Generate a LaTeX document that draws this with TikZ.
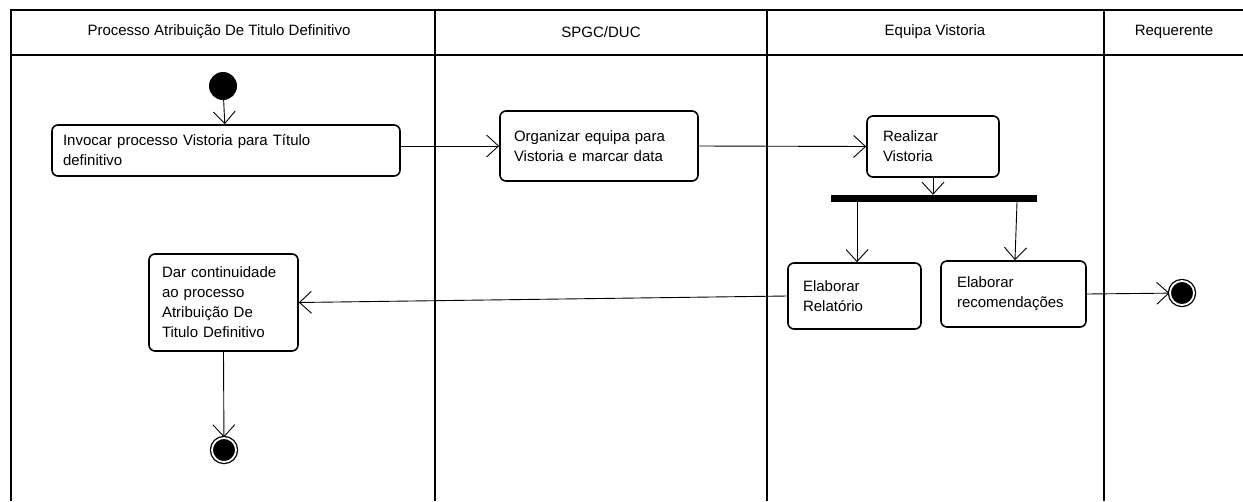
\documentclass[tikz,border=0pt]{standalone}
\usepackage{fontspec}
\setmainfont{Liberation Sans}
\usetikzlibrary{arrows.meta}
\begin{document}
\begin{tikzpicture}[x=1pt,y=-1pt,
  lane/.style={line width=2pt},
  act/.style={draw, line width=1.6pt, rounded corners=6pt, fill=white, align=left, font=\fontsize{15}{20}\selectfont, inner ysep=0pt},
  conn/.style={line width=0.9pt, -{Straight Barb[length=12pt,width=22pt,line width=0.9pt]}},
  hdr/.style={font=\fontsize{15}{18}\selectfont, inner sep=0pt},
  startnode/.style={circle, fill=black, minimum size=28pt, inner sep=0pt},
  endnode/.style={circle, draw=black, line width=1.3pt, double=white, double distance=1.8pt, fill=black, minimum size=24pt, inner sep=0pt},
  forkbar/.style={fill=black, minimum width=206pt, minimum height=7pt, inner sep=0pt}
]
\useasboundingbox (0,0) rectangle (1243,501);
\fill[white] (0,0) rectangle (1243,501);
% swimlane frame
\draw[lane] (1243,10) -- (11,10) -- (11,501);
\draw[lane] (11,55) -- (1243,55);
\draw[lane] (435,10) -- (435,501);
\draw[lane] (767,10) -- (767,501);
\draw[lane] (1104,10) -- (1104,501);
% headers
\node[hdr] (h1) at (219,32) {Processo Atribuição De Titulo Definitivo};
\node[hdr] (h2) at (601,32) {SPGC/DUC};
\node[hdr] (h3) at (935,32) {Equipa Vistoria};
\node[hdr] (h4) at (1174,32) {Requerente};
% nodes
\node[startnode] (s) at (223,86) {};
\node[act, text width=326pt, inner xsep=11pt, minimum height=51pt] (a1) at (226,150.5) {Invocar processo Vistoria para Título\\definitivo};
\node[act, text width=170pt, inner xsep=14pt, minimum height=70pt] (a2) at (599,146) {Organizar equipa para\\Vistoria e marcar data};
\node[act, text width=100pt, inner xsep=16pt, minimum height=61pt] (a3) at (933,146.5) {Realizar\\Vistoria};
\node[forkbar] (bar) at (934,198.5) {};
\node[act, text width=103pt, inner xsep=15pt, minimum height=66pt] (rel) at (854.5,296) {Elaborar\\Relatório};
\node[act, text width=113pt, inner xsep=16pt, minimum height=66pt] (rec) at (1013.5,294) {Elaborar\\recomendações};
\node[act, text width=123pt, inner xsep=13pt, minimum height=97pt] (dar) at (223.5,302.5) {Dar continuidade\\ao processo\\Atribuição De\\Titulo Definitivo};
\node[endnode] (f1) at (1182,293) {};
\node[endnode] (f2) at (224,450) {};
% connectors
\draw[conn] (s) -- (a1);
\draw[conn] (a1.east |- a2.west) -- (a2.west);
\draw[conn] (a2.east) -- (a3.west);
\draw[conn] (a3.south) -- (a3.south |- bar.north);
\draw[conn] ([xshift=2.5pt]rel.north |- bar.south) -- ([xshift=2.5pt]rel.north);
\draw[conn] ([xshift=83pt]bar.south) -- ([xshift=1.5pt]rec.north);
\draw[conn] (rec.east) -- (f1);
\draw[conn] (rel.west) -- (dar.east);
\draw[conn] (dar.south) -- (f2);
\end{tikzpicture}
\end{document}
